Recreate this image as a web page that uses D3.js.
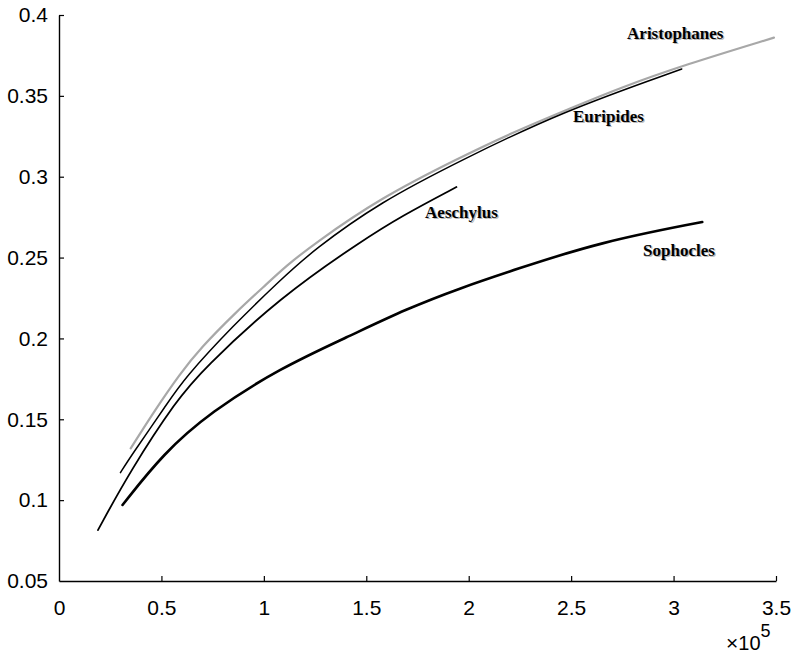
<!DOCTYPE html>
<html>
<head>
<meta charset="utf-8">
<script src="https://cdn.jsdelivr.net/npm/d3@7"></script>
<style>
  body { margin: 0; background: #fff; }
  .tick text { font-family: "Liberation Sans", Arial, sans-serif; font-size: 21px; fill: #000; }
  .name { font-family: "Liberation Serif", "Times New Roman", serif; font-weight: bold; font-size: 17px; }
</style>
</head>
<body>
<div id="chart"></div>
<script>
var width = 794,
    height = 654;

// x in units of 1e5 words, y = ratio
var aristophanesX = [0.35, 0.47, 0.59, 0.69, 0.87, 1.0, 1.11, 1.24, 1.57, 1.96, 2.19, 2.51, 2.74, 3.05, 3.49];
var aristophanesY = [0.132, 0.156, 0.178, 0.194, 0.217, 0.232, 0.245, 0.258, 0.287, 0.312, 0.326, 0.343, 0.355, 0.369, 0.386];

var euripidesX = [0.30, 0.35, 0.53, 0.61, 0.85, 1.08, 1.24, 1.57, 1.96, 2.45, 3.04];
var euripidesY = [0.117, 0.127, 0.160, 0.175, 0.208, 0.236, 0.2545, 0.2845, 0.310, 0.340, 0.3666];

var aeschylusX = [0.19, 0.35, 0.575, 0.70, 1.08, 1.48, 1.67, 1.94];
var aeschylusY = [0.0815, 0.1186, 0.162, 0.1805, 0.2256, 0.2605, 0.2755, 0.2936];

var sophoclesX = [0.31, 0.51, 0.74, 1.08, 1.41, 1.70, 1.96, 2.22, 2.64, 3.14];
var sophoclesY = [0.097, 0.129, 0.1545, 0.1817, 0.201, 0.2185, 0.2312, 0.2423, 0.2596, 0.272];

var xTicks = [0, 0.5, 1, 1.5, 2, 2.5, 3, 3.5];
var xTickLabels = ["0", "0.5", "1", "1.5", "2", "2.5", "3", "3.5"];
var yTicks = [0.05, 0.1, 0.15, 0.2, 0.25, 0.3, 0.35, 0.4];
var yTickLabels = ["0.05", "0.1", "0.15", "0.2", "0.25", "0.3", "0.35", "0.4"];

var series = [
    {name: "Aristophanes", xs: aristophanesX, ys: aristophanesY, color: "#a8a8a8", w: 2.2, label: [2.773, 0.3852]},
    {name: "Euripides", xs: euripidesX, ys: euripidesY, color: "#000", w: 1.5, label: [2.509, 0.3338]},
    {name: "Aeschylus", xs: aeschylusX, ys: aeschylusY, color: "#000", w: 1.8, label: [1.787, 0.2745]},
    {name: "Sophocles", xs: sophoclesX, ys: sophoclesY, color: "#000", w: 2.6, label: [2.851, 0.251]}
];

var svg = d3.select("#chart")
    .append("svg")
    .attr("width", width)
    .attr("height", height);

var x = d3.scaleLinear().domain([0, 3.5]).range([59, 776]);
var y = d3.scaleLinear().domain([0.05, 0.4]).range([581, 15]);

var xAxis = svg.append("g")
    .attr("transform", "translate(0," + y(0.05) + ")")
    .call(d3.axisBottom(x)
        .tickValues(xTicks)
        .tickFormat(function(d, i) { return xTickLabels[i]; })
        .tickSizeInner(-5)
        .tickSizeOuter(0)
        .tickPadding(19));

var yAxis = svg.append("g")
    .attr("transform", "translate(" + x(0) + ",0)")
    .call(d3.axisLeft(y)
        .tickValues(yTicks)
        .tickFormat(function(d, i) { return yTickLabels[i]; })
        .tickSizeInner(-5)
        .tickSizeOuter(0)
        .tickPadding(11));

svg.selectAll(".domain").attr("stroke", "#000").attr("stroke-width", 1.4);
svg.selectAll(".tick line").attr("stroke", "#000").attr("stroke-width", 1.2);
// no inner tick at the origin
xAxis.selectAll(".tick line").filter(function(d) { return d == 0; }).remove();
yAxis.selectAll(".tick line").filter(function(d) { return d == 0.05; }).remove();

// exponent label
var expo = svg.append("text")
    .attr("x", 726)
    .attr("y", 650)
    .style("font-family", "Liberation Sans, Arial, sans-serif")
    .style("font-size", "20px");
expo.append("tspan").text("\u00d7").style("font-size", "21px");
expo.append("tspan").text("10");
expo.append("tspan").text("5").attr("dy", -13).style("font-size", "18px");

var line = d3.line()
    .x(function(d) { return x(d[0]); })
    .y(function(d) { return y(d[1]); })
    .curve(d3.curveBasis);

series.forEach(function(s) {
    var pts = s.xs.map(function(v, i) { return [v, s.ys[i]]; });
    svg.append("path")
        .datum(pts)
        .attr("fill", "none")
        .attr("stroke", s.color)
        .attr("stroke-width", s.w)
        .attr("stroke-linecap", "round")
        .attr("d", line);
});

series.forEach(function(s) {
    // soft shadow copy then the label itself
    svg.append("text")
        .attr("class", "name")
        .attr("x", x(s.label[0]) + 1.3)
        .attr("y", y(s.label[1]) + 1.3)
        .attr("fill", "#999")
        .attr("opacity", 0.7)
        .text(s.name);
    svg.append("text")
        .attr("class", "name")
        .attr("x", x(s.label[0]))
        .attr("y", y(s.label[1]))
        .attr("fill", "#000")
        .text(s.name);
});
</script>
</body>
</html>
